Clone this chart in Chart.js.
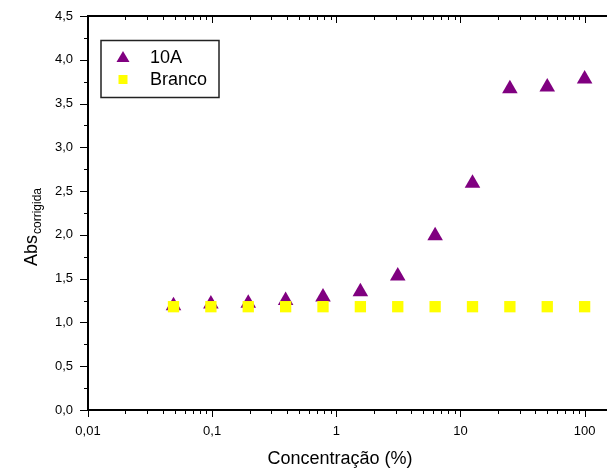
<!DOCTYPE html>
<html>
<head>
<meta charset="utf-8">
<script src="https://cdn.jsdelivr.net/npm/chart.js@4"></script>
<style>
  html, body { margin: 0; padding: 0; background: #fff; overflow: hidden; }
  canvas { display: block; }
</style>
</head>
<body>
<canvas id="chart" width="631" height="472"></canvas>
<script>
// Data (two-fold dilutions)
const concentracao = [0.048828125, 0.09765625, 0.1953125, 0.390625, 0.78125, 1.5625, 3.125, 6.25, 12.5, 25, 50, 100];
const abs10A = [1.19, 1.21, 1.22, 1.25, 1.29, 1.35, 1.53, 1.99, 2.59, 3.67, 3.69, 3.78];
const absBranco = [1.18, 1.18, 1.18, 1.18, 1.18, 1.18, 1.18, 1.18, 1.18, 1.18, 1.18, 1.18];

const xTicks = [0.01, 0.1, 1, 10, 100];
const xTickLabels = ['0,01', '0,1', '1', '10', '100'];
const yTicks = [0, 0.5, 1, 1.5, 2, 2.5, 3, 3.5, 4, 4.5];
const yTickLabels = ['0,0', '0,5', '1,0', '1,5', '2,0', '2,5', '3,0', '3,5', '4,0', '4,5'];

const FONT = '"Liberation Sans", Arial, sans-serif';
const PURPLE = '#800080';
const YELLOW = '#ffff00';

// Ticks, top frame line, legend box and axis titles
const framePlugin = {
  id: 'frame',
  afterDraw(chart) {
    const ctx = chart.ctx;
    const area = chart.chartArea;
    const sx = chart.scales.x, sy = chart.scales.y;
    ctx.save();
    ctx.strokeStyle = '#000';

    // top axis line
    ctx.lineWidth = 2;
    ctx.beginPath();
    ctx.moveTo(area.left - 1, area.top);
    ctx.lineTo(area.right, area.top);
    ctx.stroke();

    ctx.lineWidth = 1;
    const tick = (x1, y1, x2, y2) => {
      ctx.beginPath();
      ctx.moveTo(x1, y1);
      ctx.lineTo(x2, y2);
      ctx.stroke();
    };

    // x ticks: bottom outward, top inward
    for (let d = -2; d <= 2; d++) {
      for (let k = 1; k <= 9; k++) {
        const v = k * Math.pow(10, d);
        if (v > sx.max) continue;
        const px = Math.round(sx.getPixelForValue(v)) + 0.5;
        const len = k === 1 ? 7 : 4;
        tick(px, area.bottom, px, area.bottom + len);
        tick(px, area.top, px, area.top + len);
      }
    }
    // y ticks: major every 0.5, minor in between, outward
    for (let i = 0; i < yTicks.length; i++) {
      const py = Math.round(sy.getPixelForValue(yTicks[i])) + 0.5;
      tick(area.left - 8, py, area.left, py);
      if (i < yTicks.length - 1) {
        const pm = Math.round(sy.getPixelForValue(yTicks[i] + 0.25)) + 0.5;
        tick(area.left - 4, pm, area.left, pm);
      }
    }

    // legend
    ctx.lineWidth = 1.5;
    ctx.strokeStyle = '#222';
    ctx.strokeRect(101, 40.5, 118, 57);
    ctx.fillStyle = PURPLE;
    ctx.beginPath();
    ctx.moveTo(123, 51);
    ctx.lineTo(129.5, 62);
    ctx.lineTo(116.5, 62);
    ctx.closePath();
    ctx.fill();
    ctx.fillStyle = YELLOW;
    ctx.fillRect(118.5, 75, 9, 9);
    ctx.fillStyle = '#000';
    ctx.font = '18px ' + FONT;
    ctx.textBaseline = 'middle';
    ctx.textAlign = 'left';
    ctx.fillText('10A', 150, 58);
    ctx.fillText('Branco', 150, 80);

    // x title
    ctx.textAlign = 'center';
    ctx.fillText('Concentração (%)', 340, 459);

    // y title with subscript
    ctx.translate(37, 266);
    ctx.rotate(-Math.PI / 2);
    ctx.textAlign = 'left';
    ctx.textBaseline = 'alphabetic';
    ctx.font = '18px ' + FONT;
    ctx.fillText('Abs', 0, 0);
    const w = ctx.measureText('Abs').width;
    ctx.font = '12px ' + FONT;
    ctx.fillText('corrigida', w + 1, 4);
    ctx.restore();
  }
};

new Chart(document.getElementById('chart'), {
  type: 'scatter',
  data: {
    datasets: [
      {
        label: 'Branco',
        data: concentracao.map((c, i) => ({ x: c, y: absBranco[i] })),
        pointStyle: 'rect',
        pointRadius: 8,
        backgroundColor: YELLOW,
        borderWidth: 0,
        order: 0
      },
      {
        label: '10A',
        data: concentracao.map((c, i) => ({ x: c, y: abs10A[i] })),
        pointStyle: 'triangle',
        pointRadius: 9,
        backgroundColor: PURPLE,
        borderColor: PURPLE,
        borderWidth: 0,
        order: 1
      }
    ]
  },
  options: {
    responsive: false,
    animation: false,
    layout: { padding: { top: 16, left: 0, right: 0, bottom: 0 } },
    plugins: { legend: { display: false }, tooltip: { enabled: false } },
    scales: {
      x: {
        type: 'logarithmic',
        min: 0.01,
        max: 200,
        afterBuildTicks: s => { s.ticks = xTicks.map(v => ({ value: v })); },
        afterFit: s => { s.height = 62; s.paddingLeft = 0; s.paddingRight = 0; },
        ticks: {
          autoSkip: false,
          maxRotation: 0,
          padding: 14,
          color: '#000',
          font: { family: FONT, size: 13 },
          callback: (v, i) => xTickLabels[i]
        },
        grid: { drawOnChartArea: false, drawTicks: false },
        border: { display: true, color: '#000', width: 2 }
      },
      y: {
        min: 0,
        max: 4.5,
        afterBuildTicks: s => { s.ticks = yTicks.map(v => ({ value: v })); },
        afterFit: s => { s.width = 88; s.paddingTop = 0; s.paddingBottom = 0; },
        ticks: {
          padding: 15,
          color: '#000',
          font: { family: FONT, size: 13 },
          callback: (v, i) => yTickLabels[i]
        },
        grid: { drawOnChartArea: false, drawTicks: false },
        border: { display: true, color: '#000', width: 2 }
      }
    }
  },
  plugins: [framePlugin]
});
</script>
</body>
</html>
